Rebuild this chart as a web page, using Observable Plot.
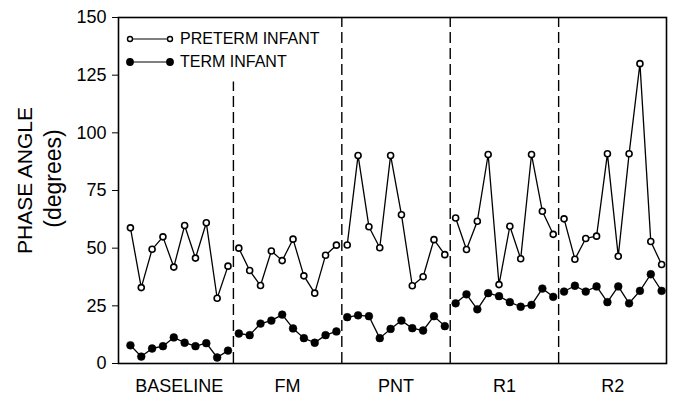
<!DOCTYPE html>
<html>
<head>
<meta charset="utf-8">
<script src="https://cdn.jsdelivr.net/npm/d3@7"></script>
<script src="https://cdn.jsdelivr.net/npm/@observablehq/plot@0.6"></script>
<style>
  body { margin: 0; background: #fff; }
  #wrap { position: relative; width: 676px; height: 404px; font-family: "Liberation Sans", Arial, sans-serif; }
  #legend { position: absolute; left: 124px; top: 27px; font-size: 16px; line-height: 23px; color: #000; }
  #legend .row { display: flex; align-items: center; height: 23px; }
  #legend svg { margin-right: 4px; }
</style>
</head>
<body>
<div id="wrap"></div>
<script>
const categories = ["BASELINE", "FM", "PNT", "R1", "R2"];
const seriesNames = ["PRETERM INFANT", "TERM INFANT"];
const preterm = [
  58.8, 32.9, 49.5, 54.9, 41.8, 59.8, 45.7, 61.0, 28.3, 42.2,
  50.0, 40.3, 33.8, 48.8, 44.6, 53.9, 38.0, 30.5, 46.9, 51.3,
  51.4, 90.2, 59.3, 50.2, 90.2, 64.5, 33.7, 37.6, 53.7, 47.2,
  63.1, 49.4, 61.7, 90.6, 34.2, 59.5, 45.4, 90.6, 66.0, 56.0,
  62.7, 45.2, 54.2, 55.2, 90.9, 46.5, 90.9, 130.0, 52.9, 42.9
];
const term = [
  7.9, 3.0, 6.5, 7.5, 11.3, 9.0, 7.5, 8.8, 2.6, 5.6,
  13.0, 12.3, 17.3, 18.6, 21.2, 15.2, 11.0, 9.0, 12.3, 13.9,
  20.1, 20.9, 20.5, 11.0, 15.0, 18.6, 15.3, 14.3, 20.5, 16.2,
  26.1, 30.0, 23.5, 30.5, 29.2, 26.6, 24.6, 25.4, 32.5, 28.9,
  31.2, 33.7, 31.2, 33.4, 26.6, 33.4, 26.1, 31.5, 38.7, 31.5
];
const yTicks = [0, 25, 50, 75, 100, 125, 150];

const perSeg = preterm.length / categories.length;
const rows = preterm.map((p, i) => ({
  i, seg: categories[Math.floor(i / perSeg)], preterm: p, term: term[i]
}));
const centers = categories.map((c, k) => k * perSeg + (perSeg - 1) / 2);
const dividers = categories.slice(1).map((c, k) => (k + 1) * perSeg - 0.5);

const chart = Plot.plot({
  width: 676,
  height: 404,
  marginLeft: 118,
  marginRight: 10,
  marginTop: 17,
  marginBottom: 41,
  style: { fontFamily: "Liberation Sans, Arial, sans-serif", background: "white", color: "black" },
  x: { domain: [-1.1, 49.45] },
  y: { domain: [0, 150] },
  marks: [
    Plot.ruleX(dividers, {
      x: d => d, y1: 0, y2: (d, k) => (k === 0 ? 122 : 150),
      stroke: "black", strokeWidth: 1.4, strokeDasharray: "11,5"
    }),
    Plot.line(rows, { x: "i", y: "preterm", z: "seg", stroke: "black", strokeWidth: 1.3 }),
    Plot.line(rows, { x: "i", y: "term", z: "seg", stroke: "black", strokeWidth: 1.3 }),
    Plot.dot(rows, { x: "i", y: "preterm", r: 3, fill: "white", stroke: "black", strokeWidth: 1.6 }),
    Plot.dot(rows, { x: "i", y: "term", r: 3.9, fill: "black", stroke: "black", strokeWidth: 0.5 }),
    Plot.frame({ stroke: "black", strokeWidth: 1.6 }),
    Plot.axisY({ ticks: yTicks, tickSize: 6, tickPadding: 6, fontSize: 18, label: null, tickFormat: d => String(d) }),
    Plot.axisX(centers, { tickSize: 0, tickPadding: 16, fontSize: 18, label: null, tickFormat: (d, k) => categories[k] }),
    Plot.text(["PHASE ANGLE"], { frameAnchor: "left", textAnchor: "middle", dx: -93, dy: -10, rotate: -90, fontSize: 21, fill: "black" }),
    Plot.text(["(degrees)"], { frameAnchor: "left", textAnchor: "middle", dx: -65, dy: -12, rotate: -90, fontSize: 23, fill: "black" })
  ]
});

const wrap = document.getElementById("wrap");
wrap.appendChild(chart);

const legend = document.createElement("div");
legend.id = "legend";
seriesNames.forEach((name, k) => {
  const row = document.createElement("div");
  row.className = "row";
  const open = k === 0;
  const fill = open ? "white" : "black";
  const r = open ? 2.5 : 3.2;
  row.innerHTML =
    `<svg width="52" height="14"><line x1="6" y1="7" x2="46" y2="7" stroke="black" stroke-width="1.2"/>` +
    `<circle cx="6" cy="7" r="${r}" fill="${fill}" stroke="black" stroke-width="1.4"/>` +
    `<circle cx="46" cy="7" r="${r}" fill="${fill}" stroke="black" stroke-width="1.4"/></svg>` +
    `<span>${name}</span>`;
  legend.appendChild(row);
});
wrap.appendChild(legend);
</script>
</body>
</html>
